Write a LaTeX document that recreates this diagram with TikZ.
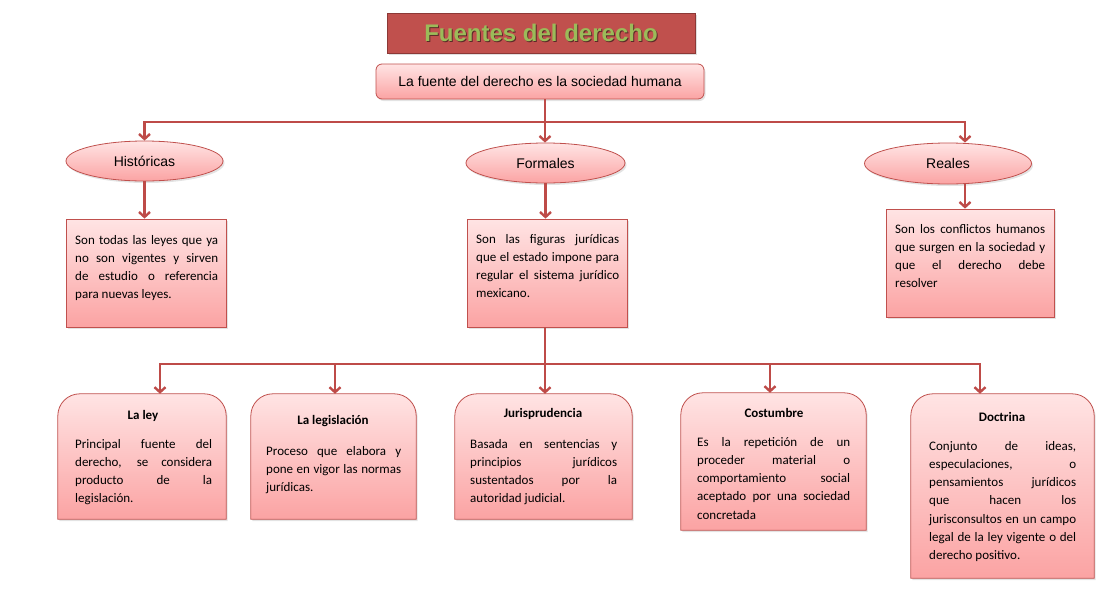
\documentclass[tikz,border=0pt]{standalone}
\usepackage{fontspec}
\setmainfont{Carlito}
\newfontfamily\fdsans{Liberation Sans}
\usepackage{tikz}
\usepackage{xcolor}
\usetikzlibrary{arrows.meta,shapes.geometric,shadows}
\definecolor{fdline}{HTML}{BE4B48}
\definecolor{fdedge}{HTML}{C0504D}
\definecolor{fdtitle}{HTML}{C0504D}
\definecolor{fdtitleedge}{HTML}{8C3836}
\definecolor{fdgreen}{HTML}{9BBB59}
\definecolor{fdshade}{HTML}{5A2A28}
\definecolor{fdtop}{HTML}{FFE4E4}
\definecolor{fdbottom}{HTML}{FBA3A3}
\newcommand{\fdArch}[1]{%
  \shade[fdBox] (#1.south west) -- ([yshift=-22pt]#1.north west)
    arc[start angle=180, end angle=90, radius=22pt] -- ([xshift=-22pt]#1.north east)
    arc[start angle=90, end angle=0, radius=22pt] -- (#1.south east) -- cycle;}
\tikzset{
  fdBox/.style={draw=fdedge, line width=0.8pt, top color=fdtop, bottom color=fdbottom,
    drop shadow={opacity=0.22, shadow xshift=1.5pt, shadow yshift=-2pt}},
  fdEllipse/.style={ellipse, fdBox, inner sep=0pt, font=\fdsans\fontsize{14}{16}\selectfont},
  fdFrame/.style={rectangle, inner sep=0pt},
  fdTitle/.style={draw=fdtitleedge, line width=0.8pt, fill=fdtitle, text=fdgreen,
    font=\fdsans\bfseries\fontsize{24}{28}\selectfont,
    drop shadow={opacity=0.25, shadow xshift=1.5pt, shadow yshift=-2pt}},
  fdText/.style={inner sep=0pt, anchor=base west, align=justify, font=\fontsize{13}{18.3}\selectfont},
  fdHead/.style={inner sep=0pt, anchor=base, font=\bfseries\fontsize{13}{16}\selectfont},
  fdLine/.style={draw=fdline, line width=2.4pt},
  fdArrow/.style={fdLine, -{Straight Barb[length=5pt,width=11pt]}}
}

\begin{document}
\begin{tikzpicture}[x=1pt,y=-1pt]
  \useasboundingbox (0,0) rectangle (1114,592);
  % title and root
  \node[fdTitle, minimum width=308pt, minimum height=40pt] (titleBox) at (541,33)
    {\rlap{\kern1pt\raisebox{-1pt}{\color{fdshade}Fuentes del derecho}}Fuentes del derecho};
  \node[fdBox, rounded corners=6pt, minimum width=328pt, minimum height=35pt,
    font=\fdsans\fontsize{14}{16}\selectfont] (topBox) at (540,81.5) {La fuente del derecho es la sociedad humana};
  % three kinds of sources
  \node[fdEllipse, minimum width=157pt, minimum height=40pt] (histEll) at (144.5,161) {Históricas};
  \node[fdEllipse, minimum width=159pt, minimum height=40pt] (formEll) at (545.5,163) {Formales};
  \node[fdEllipse, minimum width=167pt, minimum height=41pt] (realesEll) at (948,163.5) {Reales};
  \node[fdBox, minimum width=160pt, minimum height=108pt] (histBox) at (146,273) {};
  \node[fdBox, minimum width=160pt, minimum height=108pt] (formBox) at (547,273) {};
  \node[fdBox, minimum width=168pt, minimum height=108pt] (realesBox) at (970,263) {};
  \node[fdText, text width=143pt] (histText) at (75,244) {Son todas las leyes que ya\linebreak
    no son vigentes y sirven\linebreak de estudio o referencia\linebreak para nuevas leyes.};
  \node[fdText, text width=143pt] (formText) at (476,243) {Son las figuras jurídicas\linebreak
    que el estado impone para\linebreak regular el sistema jurídico\linebreak mexicano.};
  \node[fdText, text width=150pt] (realesText) at (895,233) {Son los conflictos humanos\linebreak
    que surgen en la sociedad y\linebreak que el derecho debe\linebreak resolver};
  % formal sources
  \node[fdFrame, minimum width=168pt, minimum height=125pt] (leyBox) at (142,456.5) {};
  \node[fdFrame, minimum width=165pt, minimum height=125pt] (legisBox) at (333.5,456.5) {};
  \node[fdFrame, minimum width=177pt, minimum height=125pt] (jurisBox) at (543.5,456.5) {};
  \node[fdFrame, minimum width=185pt, minimum height=137pt] (costBox) at (773.5,461.5) {};
  \node[fdFrame, minimum width=183pt, minimum height=184pt] (doctBox) at (1002.5,486) {};
  \fdArch{leyBox}
  \fdArch{legisBox}
  \fdArch{jurisBox}
  \fdArch{costBox}
  \fdArch{doctBox}
  \node[fdHead] (leyHead) at (143,419) {La ley};
  \node[fdHead] (legisHead) at (333,424) {La legislación};
  \node[fdHead] (jurisHead) at (543,417) {Jurisprudencia};
  \node[fdHead] (costHead) at (774,417) {Costumbre};
  \node[fdHead] (doctHead) at (1002,421) {Doctrina};
  \node[fdText, text width=137pt] (leyText) at (75,448) {Principal fuente del\linebreak
    derecho, se considera\linebreak producto de la\linebreak legislación.};
  \node[fdText, text width=135pt] (legisText) at (266,455) {Proceso que elabora y\linebreak
    pone en vigor las normas\linebreak jurídicas.};
  \node[fdText, text width=147pt] (jurisText) at (470,448) {Basada en sentencias y\linebreak
    principios jurídicos\linebreak sustentados por la\linebreak autoridad judicial.};
  \node[fdText, text width=153pt] (costText) at (697,446) {Es la repetición de un\linebreak
    proceder material o\linebreak comportamiento social\linebreak aceptado por una sociedad\linebreak concretada};
  \node[fdText, text width=147pt] (doctText) at (929,450) {Conjunto de ideas,\linebreak
    especulaciones, o\linebreak pensamientos jurídicos\linebreak que hacen los\linebreak
    jurisconsultos en un campo\linebreak legal de la ley vigente o del\linebreak derecho positivo.};
  % connectors
  \coordinate (trunkTop) at (545,122);
  \coordinate (trunkLow) at (545,364);
  \draw[fdLine] (trunkTop |- topBox.south) -- (trunkTop);
  \draw[fdArrow] (trunkTop) -| (histEll.north);
  \draw[fdArrow] (trunkTop) -- (trunkTop |- formEll.north);
  \draw[fdArrow] (trunkTop) -| ([xshift=17pt]realesEll.north);
  \draw[fdArrow] (histEll.south) -- (histEll.south |- histBox.north);
  \draw[fdArrow] (formEll.south) -- (formEll.south |- formBox.north);
  \draw[fdArrow] ([xshift=17pt]realesEll.south) -- ([xshift=17pt]realesEll.south |- realesBox.north);
  \draw[fdLine] (trunkLow |- formBox.south) -- (trunkLow);
  \draw[fdArrow] (trunkLow) -| ([xshift=18pt]leyBox.north);
  \draw[fdArrow] (trunkLow) -| ([xshift=1.5pt]legisBox.north);
  \draw[fdArrow] (trunkLow) -- (trunkLow |- jurisBox.north);
  \draw[fdArrow] (trunkLow) -| ([xshift=-3.5pt]costBox.north);
  \draw[fdArrow] (trunkLow) -| ([xshift=-22.5pt]doctBox.north);
\end{tikzpicture}
\end{document}
